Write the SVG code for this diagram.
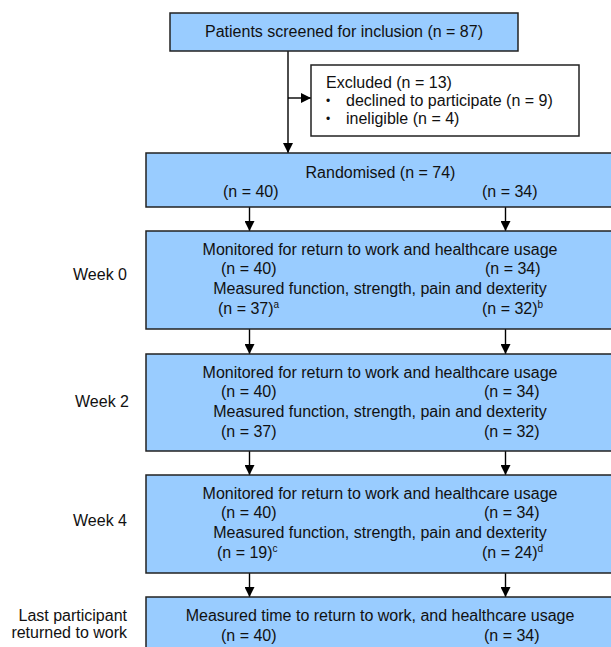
<svg xmlns="http://www.w3.org/2000/svg" width="611" height="647" viewBox="0 0 611 647">
<style>
text{font-family:"Liberation Sans",Arial,sans-serif;font-size:16px;fill:#111}
.box{fill:#99ccff;stroke:#222;stroke-width:1.5}
.wbox{fill:#fff;stroke:#222;stroke-width:1.5}
.c{text-anchor:middle}
.e{text-anchor:end}
.ln{stroke:#000;stroke-width:1.4;fill:none}
.sup{font-size:10px}
.bul{font-size:12px}
</style>
<defs>
<marker id="ah" markerWidth="10" markerHeight="10" refX="10" refY="5" orient="auto" markerUnits="userSpaceOnUse">
<path d="M0,0 L10,5 L0,10 z" fill="#000"/>
</marker>
</defs>
<g id="connectors">
<line class="ln" x1="288" y1="51" x2="288" y2="153" marker-end="url(#ah)"/>
<line class="ln" x1="288" y1="98" x2="311" y2="98" marker-end="url(#ah)"/>
<line class="ln" x1="249.5" y1="207" x2="249.5" y2="231" marker-end="url(#ah)"/>
<line class="ln" x1="505.5" y1="207" x2="505.5" y2="231" marker-end="url(#ah)"/>
<line class="ln" x1="249.5" y1="329" x2="249.5" y2="354" marker-end="url(#ah)"/>
<line class="ln" x1="505.5" y1="329" x2="505.5" y2="354" marker-end="url(#ah)"/>
<line class="ln" x1="249.5" y1="451" x2="249.5" y2="475" marker-end="url(#ah)"/>
<line class="ln" x1="505.5" y1="451" x2="505.5" y2="475" marker-end="url(#ah)"/>
<line class="ln" x1="249.5" y1="573" x2="249.5" y2="597" marker-end="url(#ah)"/>
<line class="ln" x1="505.5" y1="573" x2="505.5" y2="597" marker-end="url(#ah)"/>
</g>
<g id="screened">
<rect class="box" x="170" y="13" width="348" height="38"/>
<text class="c" x="344" y="36.5">Patients screened for inclusion (n = 87)</text>
</g>
<g id="excluded">
<rect class="wbox" x="311" y="65" width="268" height="71"/>
<text x="326" y="87.5">Excluded (n = 13)</text>
<text class="bul" x="326" y="105">•</text>
<text x="346" y="106">declined to participate (n = 9)</text>
<text class="bul" x="326" y="123">•</text>
<text x="346" y="124">ineligible (n = 4)</text>
</g>
<g id="randomised">
<rect class="box" x="146" y="153" width="480" height="54"/>
<text class="c" x="380.5" y="178">Randomised (n = 74)</text>
<text x="223" y="197">(n = 40)</text>
<text x="482" y="197">(n = 34)</text>
</g>
<g id="week0">
<text class="e" x="127" y="280">Week 0</text>
<rect class="box" x="146" y="231" width="480" height="98"/>
<text class="c" x="380" y="255">Monitored for return to work and healthcare usage</text>
<text x="221" y="274">(n = 40)</text>
<text x="485" y="274">(n = 34)</text>
<text class="c" x="380" y="294">Measured function, strength, pain and dexterity</text>
<text x="218" y="314">(n = 37)<tspan class="sup" dy="-6">a</tspan></text>
<text x="482" y="314">(n = 32)<tspan class="sup" dy="-6">b</tspan></text>
</g>
<g id="week2">
<text class="e" x="129" y="407">Week 2</text>
<rect class="box" x="146" y="354" width="480" height="97"/>
<text class="c" x="380" y="378">Monitored for return to work and healthcare usage</text>
<text x="221" y="397">(n = 40)</text>
<text x="484" y="397">(n = 34)</text>
<text class="c" x="380" y="417">Measured function, strength, pain and dexterity</text>
<text x="221" y="437">(n = 37)</text>
<text x="484" y="437">(n = 32)</text>
</g>
<g id="week4">
<text class="e" x="127" y="526">Week 4</text>
<rect class="box" x="146" y="475" width="480" height="98"/>
<text class="c" x="380" y="499">Monitored for return to work and healthcare usage</text>
<text x="221" y="518">(n = 40)</text>
<text x="484" y="518">(n = 34)</text>
<text class="c" x="380" y="538">Measured function, strength, pain and dexterity</text>
<text x="217" y="558">(n = 19)<tspan class="sup" dy="-6">c</tspan></text>
<text x="482" y="558">(n = 24)<tspan class="sup" dy="-6">d</tspan></text>
</g>
<g id="final">
<text class="e" x="127" y="621">Last participant</text>
<text class="e" x="127" y="638">returned to work</text>
<rect class="box" x="146" y="597" width="480" height="70"/>
<text class="c" x="380" y="621">Measured time to return to work, and healthcare usage</text>
<text x="221" y="641">(n = 40)</text>
<text x="484" y="641">(n = 34)</text>
</g>
</svg>
